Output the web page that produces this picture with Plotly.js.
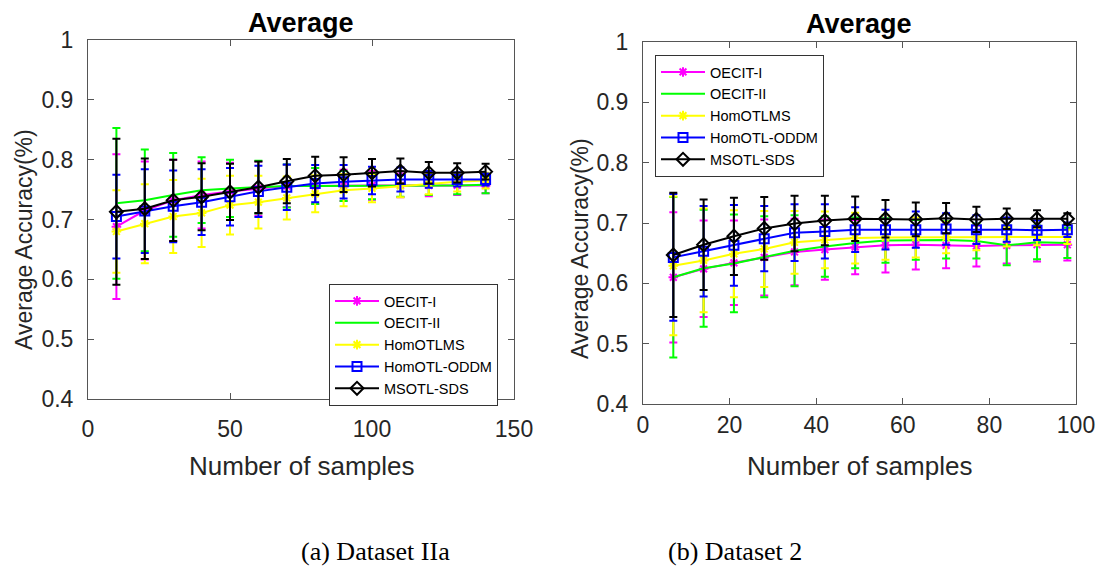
<!DOCTYPE html>
<html>
<head>
<meta charset="utf-8">
<script src="https://cdn.plot.ly/plotly-3.0.1.min.js"></script>
<style>html,body{margin:0;padding:0;background:#fff;}#chart{width:1097px;height:572px;}</style>
</head>
<body>
<div id="chart"></div>
<script>
// ---------- Data: (a) Dataset IIa ----------
const xA = [10, 20, 30, 40, 50, 60, 70, 80, 90, 100, 110, 120, 130, 140];
const oecit1A      = [0.688,0.715,0.732,0.741,0.747,0.752,0.756,0.756,0.757,0.757,0.757,0.757,0.757,0.757];
const oecit1AErr   = [0.121,0.082,0.068,0.056,0.048,0.045,0.035,0.030,0.026,0.024,0.020,0.018,0.016,0.013];
const oecit2A      = [0.727,0.732,0.741,0.749,0.752,0.754,0.756,0.756,0.756,0.756,0.756,0.757,0.757,0.758];
const oecit2AErr   = [0.126,0.085,0.070,0.055,0.048,0.044,0.036,0.030,0.025,0.022,0.018,0.016,0.015,0.014];
const homotlmsA    = [0.680,0.693,0.705,0.711,0.724,0.729,0.736,0.743,0.749,0.752,0.756,0.760,0.763,0.765];
const homotlmsAErr = [0.069,0.066,0.061,0.057,0.049,0.044,0.036,0.031,0.027,0.023,0.019,0.018,0.016,0.013];
const oddmA        = [0.705,0.714,0.722,0.729,0.738,0.747,0.754,0.760,0.763,0.765,0.767,0.767,0.767,0.767];
const oddmAErr     = [0.070,0.070,0.060,0.055,0.048,0.043,0.038,0.031,0.028,0.023,0.020,0.014,0.012,0.010];
const msotlA       = [0.713,0.718,0.732,0.738,0.746,0.754,0.764,0.773,0.775,0.778,0.781,0.778,0.778,0.780];
const msotlAErr    = [0.122,0.084,0.068,0.056,0.047,0.043,0.037,0.032,0.029,0.023,0.021,0.018,0.016,0.013];

// ---------- Data: (b) Dataset 2 ----------
const xB = [7, 14, 21, 28, 35, 42, 49, 56, 63, 70, 77, 84, 91, 98];
const oecit1B      = [0.610,0.624,0.634,0.643,0.652,0.656,0.660,0.663,0.664,0.663,0.662,0.663,0.664,0.664];
const oecit1BErr   = [0.108,0.080,0.070,0.063,0.055,0.050,0.045,0.045,0.041,0.038,0.034,0.030,0.028,0.026];
const oecit2B      = [0.610,0.625,0.633,0.644,0.654,0.661,0.667,0.671,0.672,0.672,0.670,0.663,0.668,0.667];
const oecit2BErr   = [0.133,0.097,0.081,0.067,0.059,0.050,0.042,0.037,0.033,0.031,0.029,0.033,0.028,0.025];
const homotlmsB    = [0.629,0.638,0.649,0.657,0.668,0.672,0.675,0.676,0.676,0.676,0.676,0.677,0.677,0.677];
const homotlmsBErr = [0.115,0.086,0.072,0.063,0.052,0.047,0.042,0.037,0.033,0.026,0.021,0.016,0.014,0.012];
const oddmB        = [0.643,0.653,0.663,0.674,0.684,0.686,0.689,0.689,0.689,0.690,0.689,0.689,0.688,0.689];
const oddmBErr     = [0.105,0.075,0.067,0.054,0.047,0.045,0.037,0.033,0.030,0.026,0.024,0.020,0.016,0.012];
const msotlB       = [0.647,0.664,0.678,0.691,0.699,0.704,0.707,0.707,0.706,0.708,0.706,0.707,0.707,0.707];
const msotlBErr    = [0.103,0.075,0.064,0.052,0.046,0.041,0.037,0.031,0.028,0.025,0.021,0.017,0.014,0.009];

const seriesNames = ['OECIT-I', 'OECIT-II', 'HomOTLMS', 'HomOTL-ODDM', 'MSOTL-SDS'];
const yTickVals = [0.4, 0.5, 0.6, 0.7, 0.8, 0.9, 1];
const yTickText = ['0.4', '0.5', '0.6', '0.7', '0.8', '0.9', '1'];
const xTickValsA = [0, 50, 100, 150];
const xTickValsB = [0, 20, 40, 60, 80, 100];

// ---------- Styles ----------
const styles = [
  {color: '#ff00ff', symbol: 'asterisk-open', mode: 'lines+markers', size: 8},
  {color: '#00ff00', symbol: 'line-ew', mode: 'lines', size: 6},
  {color: '#ffff00', symbol: 'asterisk-open', mode: 'lines+markers', size: 8},
  {color: '#0000ff', symbol: 'square-open', mode: 'lines+markers', size: 9},
  {color: '#000000', symbol: 'diamond-open', mode: 'lines+markers', size: 10}
];

function mk(x, y, err, i, xa, ya, legend) {
  const s = styles[i];
  return {
    type: 'scatter', x: x, y: y, name: seriesNames[i],
    xaxis: xa, yaxis: ya, legend: legend, mode: s.mode,
    line: {color: s.color, width: 2},
    marker: {symbol: s.symbol, size: s.size, color: s.color, line: {color: s.color, width: 2}},
    error_y: {type: 'data', array: err, visible: true, color: s.color, thickness: 2, width: 4}
  };
}

const data = [
  mk(xA, oecit1A, oecit1AErr, 0, 'x', 'y', 'legend'),
  mk(xA, oecit2A, oecit2AErr, 1, 'x', 'y', 'legend'),
  mk(xA, homotlmsA, homotlmsAErr, 2, 'x', 'y', 'legend'),
  mk(xA, oddmA, oddmAErr, 3, 'x', 'y', 'legend'),
  mk(xA, msotlA, msotlAErr, 4, 'x', 'y', 'legend'),
  mk(xB, oecit1B, oecit1BErr, 0, 'x2', 'y2', 'legend2'),
  mk(xB, oecit2B, oecit2BErr, 1, 'x2', 'y2', 'legend2'),
  mk(xB, homotlmsB, homotlmsBErr, 2, 'x2', 'y2', 'legend2'),
  mk(xB, oddmB, oddmBErr, 3, 'x2', 'y2', 'legend2'),
  mk(xB, msotlB, msotlBErr, 4, 'x2', 'y2', 'legend2')
];

const W = 1097, H = 572;
const px = v => v / W;
const py = v => 1 - v / H;
const SANS = 'Liberation Sans, Arial, sans-serif';
const SERIF = 'Liberation Serif, Times New Roman, serif';
const tickFont = {family: SANS, size: 23, color: '#262626'};
const axisLine = '#555555';

function xax(dom, range, vals, standoff, anchor) {
  return {
    domain: dom, range: range, tickvals: vals, ticktext: vals.map(String),
    ticks: 'inside', ticklen: 6, tickcolor: axisLine, tickwidth: 1,
    showline: true, linecolor: axisLine, linewidth: 1, mirror: 'ticks',
    showgrid: false, zeroline: false, tickfont: tickFont,
    ticklabelstandoff: standoff, anchor: anchor, fixedrange: true
  };
}
function yax(dom, anchor) {
  return {
    domain: dom, range: [0.4, 1], tickvals: yTickVals, ticktext: yTickText,
    ticks: 'inside', ticklen: 6, tickcolor: axisLine, tickwidth: 1,
    showline: true, linecolor: axisLine, linewidth: 1, mirror: 'ticks',
    showgrid: false, zeroline: false, tickfont: tickFont,
    ticklabelstandoff: 9, anchor: anchor, fixedrange: true
  };
}

function ann(text, x, y, size, opts) {
  return Object.assign({
    text: text, xref: 'paper', yref: 'paper', x: px(x), y: py(y),
    xanchor: 'center', yanchor: 'middle', showarrow: false,
    font: {family: SANS, size: size, color: '#262626'}
  }, opts || {});
}

const legendBase = {
  font: {family: SANS, size: 14.5, color: '#000'},
  bgcolor: '#ffffff', bordercolor: '#333333', borderwidth: 1,
  xref: 'paper', yref: 'paper', xanchor: 'left', yanchor: 'top',
  tracegroupgap: 0, itemwidth: 44, itemclick: false, itemdoubleclick: false
};

const layout = {
  width: W, height: H,
  margin: {l: 0, r: 0, t: 0, b: 0},
  paper_bgcolor: '#ffffff', plot_bgcolor: '#ffffff',
  showlegend: true,
  xaxis: xax([px(88), px(514)], [0, 150], xTickValsA, 9, 'y'),
  yaxis: yax([py(399), py(40)], 'x'),
  xaxis2: xax([px(643), px(1076)], [0, 100], xTickValsB, 0, 'y2'),
  yaxis2: yax([py(404), py(42)], 'x2'),
  legend: Object.assign({}, legendBase, {x: px(329), y: py(284)}),
  legend2: Object.assign({}, legendBase, {x: px(655), y: py(55)}),
  annotations: [
    ann('Average', 301, 23, 27, {font: {family: SANS, size: 27, color: '#000', weight: 'bold'}}),
    ann('Average', 859, 24, 27, {font: {family: SANS, size: 27, color: '#000', weight: 'bold'}}),
    ann('Average Accuracy(%)', 24, 240, 23, {textangle: -90}),
    ann('Average Accuracy(%)', 580, 249, 23, {textangle: -90}),
    ann('Number of samples', 301, 466, 26),
    ann('Number of samples', 859, 466, 26),
    ann('(a) Dataset IIa', 375, 551, 26, {font: {family: SERIF, size: 26, color: '#000'}}),
    ann('(b) Dataset 2', 735, 551, 26, {font: {family: SERIF, size: 26, color: '#000'}})
  ]
};

Plotly.newPlot('chart', data, layout, {displayModeBar: false, staticPlot: true});
</script>
</body>
</html>
